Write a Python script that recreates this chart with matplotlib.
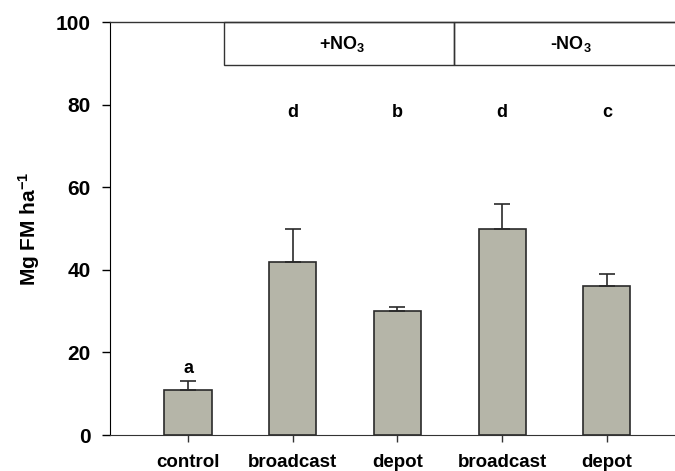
import matplotlib.pyplot as plt
from matplotlib.patches import Rectangle

plt.rcParams['font.family'] = ['Liberation Sans', 'DejaVu Sans']
plt.rcParams['font.weight'] = 'bold'
plt.rcParams['mathtext.fontset'] = 'custom'
plt.rcParams['mathtext.rm'] = 'Liberation Sans:bold'
plt.rcParams['mathtext.bf'] = 'Liberation Sans:bold'
plt.rcParams['mathtext.default'] = 'bf'

categories = ['control', 'broadcast', 'depot', 'broadcast', 'depot']
yield_fm = [11, 42, 30, 50, 36]
yield_err = [2, 8, 1, 6, 3]
letters = ['a', 'd', 'b', 'd', 'c']
letter_y = [16, 78, 78, 78, 78]
groups = ['+NO$_3$', '-NO$_3$']

fig = plt.figure(figsize=(6.75, 4.71), dpi=100)
ax = fig.add_axes([0.163, 0.0764, 0.837, 0.8766])

x = list(range(len(categories)))
ax.bar(x, yield_fm, width=0.45, color='#b5b5a8', edgecolor='#2a2a2a', linewidth=1.2,
       yerr=[[0] * len(yield_err), yield_err],
       error_kw=dict(ecolor='#2a2a2a', elinewidth=1.2, capsize=6, capthick=1.2))

for xi, lab, ly in zip(x, letters, letter_y):
    ax.text(xi, ly, lab, ha='center', va='center', fontsize=13, fontweight='bold')

# treatment header boxes across the top
box_bottom = 89.5
ax.add_patch(Rectangle((0.347, box_bottom), 2.54 - 0.347, 100 - box_bottom,
                       fill=False, edgecolor='#333333', linewidth=1.0, clip_on=False))
ax.add_patch(Rectangle((2.54, box_bottom), 5.0, 100 - box_bottom,
                       fill=False, edgecolor='#333333', linewidth=1.0, clip_on=False))
ax.text(1.47, 94.6, groups[0], ha='center', va='center', fontsize=13, fontweight='bold')
ax.text(3.66, 94.6, groups[1], ha='center', va='center', fontsize=13, fontweight='bold')

ax.set_xlim(-0.745, 4.65)
ax.set_ylim(0, 100)
ax.set_yticks([0, 20, 40, 60, 80, 100])
ax.set_xticks(x)
ax.set_xticklabels(categories)
ax.tick_params(axis='y', labelsize=15, length=6, width=1, pad=8)
ax.tick_params(axis='x', labelsize=13.5, length=5, width=1, pad=9, color='#333333')
ax.set_ylabel('Mg FM ha$^{-1}$', fontsize=15, fontweight='bold', labelpad=10)

ax.spines['right'].set_visible(False)
ax.spines['left'].set_color('black')
ax.spines['bottom'].set_color('#333333')
ax.spines['top'].set_color('#333333')
ax.spines['top'].set_linewidth(1.0)

fig.savefig('out.png', dpi=100)
